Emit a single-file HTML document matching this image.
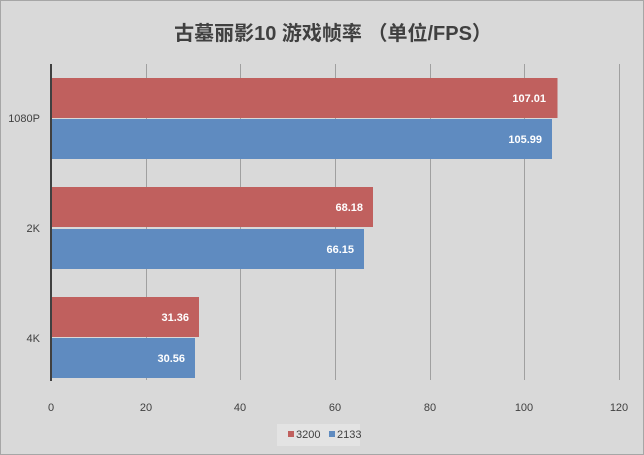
<!DOCTYPE html>
<html><head><meta charset="utf-8"><style>
body{margin:0;background:#d9d9d9}
svg{display:block;font-family:"Liberation Sans","Noto Sans CJK SC",sans-serif}
</style></head><body>
<svg width="644" height="455" xmlns="http://www.w3.org/2000/svg">
<rect x="0.5" y="0.5" width="643" height="454" fill="#d9d9d9" stroke="#a6a6a6"/>
<text x="333" y="40" font-size="20" font-weight="bold" fill="#404040" text-anchor="middle">古墓丽影10 游戏帧率 （单位/FPS）</text>
<g stroke="#a0a0a0" stroke-width="1">
<line x1="146.5" y1="64" x2="146.5" y2="380"/>
<line x1="240.5" y1="64" x2="240.5" y2="380"/>
<line x1="335.5" y1="64" x2="335.5" y2="380"/>
<line x1="430.5" y1="64" x2="430.5" y2="380"/>
<line x1="524.5" y1="64" x2="524.5" y2="380"/>
<line x1="619.5" y1="64" x2="619.5" y2="380"/>
</g>
<g fill="#c0605e">
<rect x="52" y="78" width="505.5" height="40"/>
<rect x="52" y="187" width="321" height="40"/>
<rect x="52" y="297" width="147" height="40"/>
</g>
<g fill="#5f8bc0">
<rect x="52" y="119" width="500" height="40"/>
<rect x="52" y="229" width="312" height="40"/>
<rect x="52" y="338" width="143" height="40"/>
</g>
<line x1="51" y1="64" x2="51" y2="381" stroke="#404040" stroke-width="2"/>
<g font-size="11" font-weight="bold" fill="#fff" text-anchor="end">
<text x="546" y="102">107.01</text>
<text x="542" y="143">105.99</text>
<text x="363" y="211">68.18</text>
<text x="354" y="253">66.15</text>
<text x="189" y="321">31.36</text>
<text x="185" y="362">30.56</text>
</g>
<g font-size="11" fill="#404040" text-anchor="end">
<text x="40" y="122">1080P</text>
<text x="40" y="232">2K</text>
<text x="40" y="342">4K</text>
</g>
<g font-size="11" fill="#404040" text-anchor="middle">
<text x="51" y="411">0</text>
<text x="146" y="411">20</text>
<text x="240" y="411">40</text>
<text x="335" y="411">60</text>
<text x="430" y="411">80</text>
<text x="524" y="411">100</text>
<text x="619" y="411">120</text>
</g>
<rect x="277" y="424" width="83" height="22" fill="#e3e3e3"/>
<rect x="288" y="431" width="6" height="6" fill="#c0605e"/>
<text x="296" y="438" font-size="11" fill="#404040">3200</text>
<rect x="329" y="431" width="6" height="6" fill="#5f8bc0"/>
<text x="337" y="438" font-size="11" fill="#404040">2133</text>
</svg>
</body></html>
